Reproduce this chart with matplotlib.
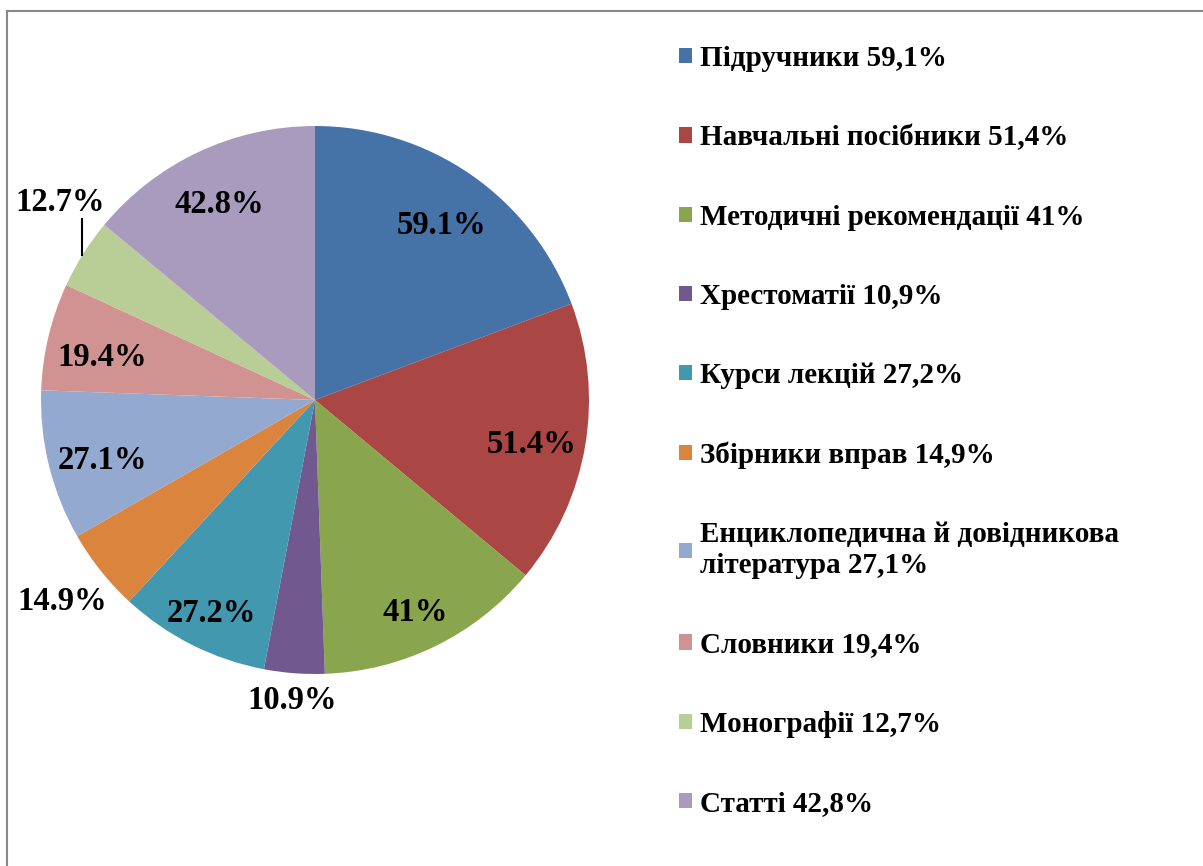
import matplotlib.pyplot as plt
import numpy as np

plt.rcParams['font.family'] = ['Liberation Serif', 'DejaVu Serif']

# data
categories = ['Підручники 59,1%', 'Навчальні посібники 51,4%', 'Методичні рекомендації 41%',
              'Хрестоматії 10,9%', 'Курси лекцій 27,2%', 'Збірники вправ 14,9%',
              'Енциклопедична й довідникова\nлітература 27,1%', 'Словники 19,4%',
              'Монографії 12,7%', 'Статті 42,8%']
values = [59.1, 51.4, 41, 10.9, 27.2, 14.9, 27.1, 19.4, 12.7, 42.8]
value_labels = ['59.1%', '51.4%', '41%', '10.9%', '27.2%', '14.9%', '27.1%', '19.4%', '12.7%', '42.8%']

colors = ['#4572A7', '#AA4643', '#89A54E', '#71588F', '#4198AF',
          '#DB843D', '#93A9CF', '#D19392', '#B9CD96', '#A99BBD']

W, H = 1203, 866
fig = plt.figure(figsize=(W / 100, H / 100), dpi=100)

# axes placed so the pie has radius ~274 px centred at (315, 400)
R = 274
lim = 1.2
side = R * 2 * lim
cx, cy = 315, 400
ax = fig.add_axes([(cx - side / 2) / W, (H - cy - side / 2) / H, side / W, side / H])

wedges, _ = ax.pie(values, colors=colors, startangle=90, counterclock=False,
                   wedgeprops=dict(linewidth=0))
ax.set_xlim(-lim, lim)
ax.set_ylim(-lim, lim)
ax.set_aspect('equal')
ax.axis('off')

# label distance per slice (outside for the small ones)
dist = [0.81, 0.8, 0.83, 1.1, 0.84, 1.18, 0.8, 0.8, 1.2, 0.82]
for w, lab, d in zip(wedges, value_labels, dist):
    ang = np.deg2rad((w.theta1 + w.theta2) / 2)
    x, y = d * np.cos(ang), d * np.sin(ang)
    if d < 1:
        y -= 0.03
    if lab == '12.7%':
        # pulled-out label with a short leader line
        x, y = -0.93, 0.72
        ax.plot([-0.85, -0.85], [0.53, 0.66], color='black', lw=1.5, clip_on=False)
    ax.text(x, y, lab, ha='center', va='center', fontsize=23.5, fontweight='bold',
            clip_on=False)

leg = fig.legend(wedges, categories, loc='upper left',
                 bbox_to_anchor=(653 / W, 1 - 19 / H), frameon=False,
                 prop=dict(size=21, weight='bold'), handlelength=0.42,
                 handleheight=0.42, handletextpad=0.3, labelspacing=1.79)

# grey frame around the chart area, cut off at right and bottom
fig.add_artist(plt.Line2D([7 / W, 7 / W], [0, 1 - 11 / H], color='#888888', lw=1.5))
fig.add_artist(plt.Line2D([7 / W, 1], [1 - 11 / H, 1 - 11 / H], color='#888888', lw=1.5))

fig.savefig('out.png', dpi=100)
